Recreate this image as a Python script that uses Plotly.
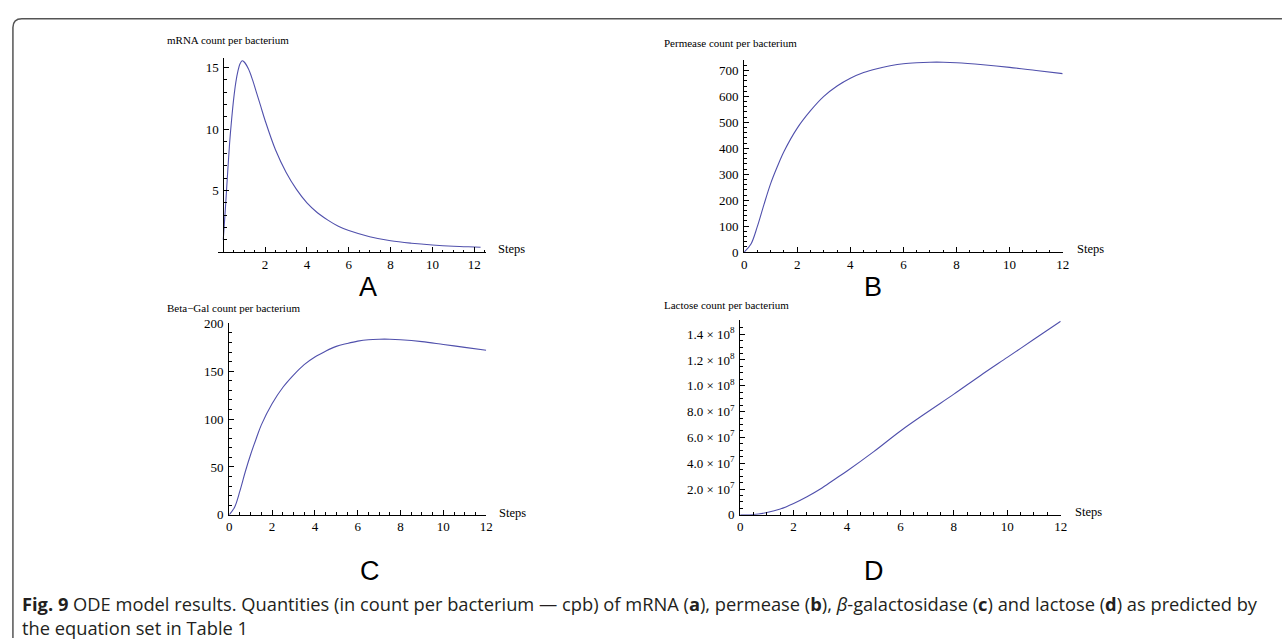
import plotly.graph_objects as go

# ---------------- data ----------------
mrna_steps = [0, 0.1, 0.2, 0.3, 0.4, 0.5, 0.6, 0.7, 0.8, 0.9, 1.0, 1.2, 1.4, 1.6, 1.8, 2.0,
              2.5, 3.0, 3.5, 4.0, 4.5, 5.0, 5.5, 6.0, 7.0, 8.0, 9.0, 10.0, 11.0, 12.0, 12.3]
mrna_cpb = [1.0, 3.5, 6.2, 8.8, 10.8, 12.5, 13.8, 14.7, 15.3, 15.55, 15.45, 14.9, 14.0, 12.9, 11.8, 10.7,
            8.3, 6.5, 5.1, 4.0, 3.2, 2.6, 2.1, 1.75, 1.25, 0.92, 0.72, 0.58, 0.48, 0.42, 0.4]

perm_steps = [0, 0.25, 0.5, 0.75, 1.0, 1.25, 1.5, 2.0, 2.5, 3.0, 3.5, 4.0, 4.5, 5.0, 5.5,
              6.0, 6.5, 7.0, 7.5, 8.0, 9.0, 10.0, 11.0, 12.0]
perm_cpb = [0, 30, 100, 185, 265, 330, 388, 478, 545, 600, 640, 670, 692, 707, 718,
            726, 730, 732, 732, 730, 722, 712, 700, 688]

bgal_steps = [0, 0.25, 0.5, 0.75, 1.0, 1.25, 1.5, 2.0, 2.5, 3.0, 3.5, 4.0, 4.5, 5.0, 5.5,
              6.0, 6.5, 7.0, 7.5, 8.0, 9.0, 10.0, 11.0, 12.0]
bgal_cpb = [0, 8, 25, 45, 63, 79, 94, 116, 133, 146, 157, 165, 171, 176, 179,
            181.5, 183, 183.5, 183.5, 183, 181, 178, 175, 172]

lac_steps = [0, 0.5, 1.0, 1.5, 2.0, 2.5, 3.0, 3.5, 4.0, 5.0, 6.0, 7.0, 8.0, 9.0, 10.0, 11.0, 12.0]
lac_cpb = [0, 0.02e7, 0.18e7, 0.45e7, 0.88e7, 1.4e7, 2.0e7, 2.7e7, 3.4e7, 4.9e7, 6.5e7,
           7.95e7, 9.35e7, 10.8e7, 12.2e7, 13.6e7, 15.0e7]

steps_ticks = [0, 2, 4, 6, 8, 10, 12]
mrna_steps_ticks = [2, 4, 6, 8, 10, 12]
mrna_ticks = [5, 10, 15]
perm_ticks = [0, 100, 200, 300, 400, 500, 600, 700]
bgal_ticks = [0, 50, 100, 150, 200]
lac_tickvals = [0, 2e7, 4e7, 6e7, 8e7, 1e8, 1.2e8, 1.4e8]
lac_ticktext = ["0", "2.0 × 10<sup>7</sup>", "4.0 × 10<sup>7</sup>", "6.0 × 10<sup>7</sup>",
                "8.0 × 10<sup>7</sup>", "1.0 × 10<sup>8</sup>", "1.2 × 10<sup>8</sup>", "1.4 × 10<sup>8</sup>"]

titles = ["mRNA count per bacterium", "Permease count per bacterium",
          "Beta−Gal count per bacterium", "Lactose count per bacterium"]
panel_letters = ["A", "B", "C", "D"]

# ---------------- layout helpers ----------------
W, H = 1284, 641
def px(x):
    return x / W
def py(y):
    return 1 - y / H

LINE = "#5050ac"
SERIF = "Liberation Serif"
tickfont = dict(family=SERIF, size=13, color="black")

def xax(dom, rng, tickvals, minor_dtick, anchor):
    return dict(domain=[px(dom[0]), px(dom[1])], range=rng, showline=True, linecolor="black",
                linewidth=1, ticks="inside", ticklen=5, tickwidth=1, tickcolor="black",
                tickmode="array", tickvals=tickvals, showgrid=False, zeroline=False,
                tickfont=tickfont, anchor=anchor, ticklabelstandoff=0,
                minor=dict(ticks="inside", ticklen=2.5, tickcolor="black", dtick=minor_dtick,
                           tick0=0, showgrid=False))

def yax(dom, rng, tickvals, minor_dtick, anchor, ticktext=None, position=None):
    d = dict(domain=[py(dom[1]), py(dom[0])], range=rng, showline=True, linecolor="black",
             linewidth=1, ticks="inside", ticklen=5, tickwidth=1, tickcolor="black",
             tickmode="array", tickvals=tickvals, showgrid=False, zeroline=False,
             tickfont=tickfont, anchor=anchor, ticklabelstandoff=2,
             minor=dict(ticks="inside", ticklen=2.5, tickcolor="black", dtick=minor_dtick,
                        tick0=0, showgrid=False))
    if ticktext is not None:
        d["ticktext"] = ticktext
    if position is not None:
        d["anchor"] = "free"
        d["position"] = position
    return d

fig = go.Figure()
for xs, ys, xa, ya in [(mrna_steps, mrna_cpb, "x", "y"), (perm_steps, perm_cpb, "x2", "y2"),
                       (bgal_steps, bgal_cpb, "x3", "y3"), (lac_steps, lac_cpb, "x4", "y4")]:
    fig.add_trace(go.Scatter(x=xs, y=ys, mode="lines", line=dict(color=LINE, width=1.1, shape="spline"),
                             xaxis=xa, yaxis=ya, showlegend=False, hoverinfo="skip"))

# panel geometry in pixels
A_x0, A_x12, A_y0, A_ytop = 222, 475, 251, 52
B_x0, B_x12, B_y0, B_ytop = 747, 1068, 251, 54
C_x0, C_x12, C_y0, C_ytop = 228, 487, 520, 324
D_x0, D_x12, D_y0, D_ytop = 743, 1066, 520, 321

a_unit = (A_x12 - A_x0) / 12.0
a_left = A_x0 - 5
a_right = 487

layout = dict(
    width=W, height=H, margin=dict(l=0, r=0, t=0, b=0),
    paper_bgcolor="white", plot_bgcolor="rgba(0,0,0,0)",
    xaxis=xax((a_left, a_right), [-(A_x0 - a_left) / a_unit, (a_right - A_x0) / a_unit],
              mrna_steps_ticks, 0.5, "y"),
    yaxis=yax((A_ytop, A_y0), [0, 15 * (A_y0 - A_ytop) / (A_y0 - 62)], mrna_ticks, 1, "x",
              position=px(A_x0)),
    xaxis2=xax((B_x0, B_x12), [0, 12], steps_ticks, 0.5, "y2"),
    yaxis2=yax((B_ytop, B_y0), [0, 700 * (B_y0 - B_ytop) / (B_y0 - 65)], perm_ticks, 20, "x2"),
    xaxis3=xax((C_x0, C_x12), [0, 12], steps_ticks, 0.5, "y3"),
    yaxis3=yax((C_ytop, C_y0), [0, 200], bgal_ticks, 10, "x3"),
    xaxis4=xax((D_x0, D_x12), [0, 12], steps_ticks, 0.5, "y4"),
    yaxis4=yax((D_ytop, D_y0), [0, 1.4e8 * (D_y0 - D_ytop) / (D_y0 - 335)], lac_tickvals, 5e6, "x4",
               ticktext=lac_ticktext),
)
fig.update_layout(**layout)

ann = []
# axis titles (top-left)
for (x, y), t in zip([(163, 34), (664, 37), (163, 308), (664, 305)], titles):
    ann.append(dict(x=px(x), y=py(y), xref="paper", yref="paper", text=t, showarrow=False,
                    xanchor="left", yanchor="middle", font=dict(family=SERIF, size=11, color="black")))
# "Steps" labels
for (x, y) in [(497, 248), (1080, 248), (498, 518), (1078, 517)]:
    ann.append(dict(x=px(x), y=py(y), xref="paper", yref="paper", text="Steps", showarrow=False,
                    xanchor="left", yanchor="middle", font=dict(family=SERIF, size=12.5, color="black")))
# panel letters
for (x, y), t in zip([(368, 287), (877, 287), (370, 578), (878, 578)], panel_letters):
    ann.append(dict(x=px(x), y=py(y), xref="paper", yref="paper", text=t, showarrow=False,
                    xanchor="center", yanchor="middle", font=dict(family="Liberation Sans", size=27, color="black")))
# caption (two lines in one text block)
caption = ("<b>Fig. 9</b> ODE model results. Quantities (in count per bacterium — cpb) of mRNA (<b>a</b>), "
           "permease (<b>b</b>), <i>β</i>-galactosidase (<b>c</b>) and lactose (<b>d</b>) as predicted by"
           "<br>the equation set in Table 1")
ann.append(dict(x=px(17), y=py(623), xref="paper", yref="paper", text=caption, showarrow=False,
                xanchor="left", yanchor="middle", align="left",
                font=dict(family="Open Sans", size=18.3, color="#231f20")))
fig.update_layout(annotations=ann)

# frame: top and left borders with rounded corner
r = 9
path = (f"M {px(10)},{py(H + 5)} L {px(10)},{py(12 + r)} "
        f"Q {px(10)},{py(12)} {px(10 + r)},{py(12)} L {px(W + 5)},{py(12)}")
fig.add_shape(type="path", xref="paper", yref="paper", path=path,
              line=dict(color="#555555", width=1.5))

fig.write_html("out.html")
